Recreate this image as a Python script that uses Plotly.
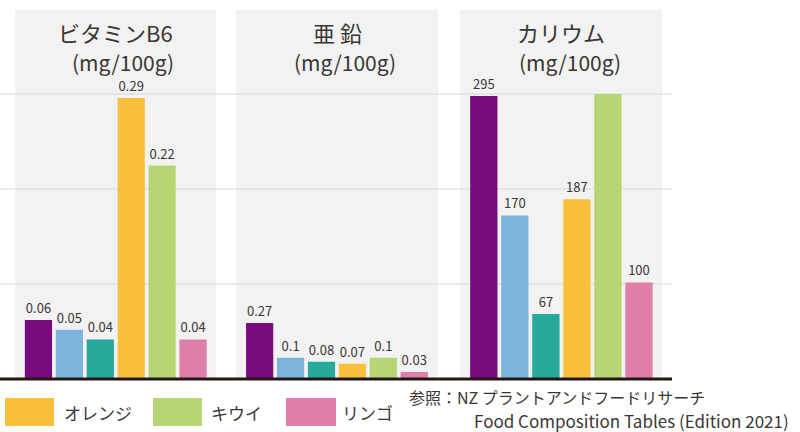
import plotly.graph_objects as go

W, H = 800, 432

fruits = ["F1", "F2", "F3", "オレンジ", "キウイ", "リンゴ"]
colors = ["#7a0b7e", "#7db4dc", "#27a99b", "#fbbf3e", "#b6d675", "#de7fa9"]

titles = ["ビタミンB6", "亜 鉛", "カリウム"]
unit = "(mg/100g)"

vitb6 = [0.06, 0.05, 0.04, 0.29, 0.22, 0.04]
zinc = [0.27, 0.1, 0.08, 0.07, 0.1, 0.03]
kalium = [295, 170, 67, 187, 297, 100]

vitb6_lbl = ["0.06", "0.05", "0.04", "0.29", "0.22", "0.04"]
zinc_lbl = ["0.27", "0.1", "0.08", "0.07", "0.1", "0.03"]
kalium_lbl = ["295", "170", "67", "187", "", "100"]

legend_names = ["オレンジ", "キウイ", "リンゴ"]
legend_colors = ["#fbbf3e", "#b6d675", "#de7fa9"]

source1 = "参照：NZ プラントアンドフードリサーチ"
source2 = "Food Composition Tables (Edition 2021)"

TXT = "#3a3634"
FONT = "Noto Sans CJK JP"

def px(x):
    return x / W

def py(y):
    return 1 - y / H

fig = go.Figure()
series = [(vitb6, vitb6_lbl), (zinc, zinc_lbl), (kalium, kalium_lbl)]
for i, (vals, lbls) in enumerate(series):
    sfx = "" if i == 0 else str(i + 1)
    fig.add_trace(go.Bar(
        x=fruits, y=vals, text=lbls, textposition="outside",
        textfont=dict(size=13, color=TXT, family=FONT),
        marker=dict(color=colors, line=dict(width=0)),
        cliponaxis=False, constraintext="none",
        xaxis="x" + sfx, yaxis="y" + sfx, showlegend=False,
        hoverinfo="skip",
    ))

ydom = [py(378), py(94)]
xdoms = [[23, 208.5], [244.2, 429.7], [468.3, 654.5]]
ymax = [0.29 * 284 / 280, 0.27 * 284 / 55, 295 * 284 / 282]

layout = dict(
    width=W, height=H, margin=dict(l=0, r=0, t=0, b=0),
    paper_bgcolor="white", plot_bgcolor="rgba(0,0,0,0)",
    bargap=0.12, showlegend=False,
    font=dict(family=FONT, color=TXT),
)
for i in range(3):
    sfx = "" if i == 0 else str(i + 1)
    layout["xaxis" + sfx] = dict(domain=[px(xdoms[i][0]), px(xdoms[i][1])],
                                 range=[-0.5, 5.5], visible=False,
                                 anchor="y" + sfx, fixedrange=True)
    layout["yaxis" + sfx] = dict(domain=ydom, range=[0, ymax[i]], visible=False,
                                 anchor="x" + sfx, fixedrange=True)
fig.update_layout(**layout)

shapes = []
panels = [(15, 216), (236, 438), (460, 662)]
for x0, x1 in panels:
    shapes.append(dict(type="rect", xref="paper", yref="paper",
                       x0=px(x0), x1=px(x1), y0=py(379), y1=py(10),
                       fillcolor="#f2f2f2", line=dict(width=0), layer="below"))
for gy in [94, 189, 284]:
    shapes.append(dict(type="line", xref="paper", yref="paper",
                       x0=0, x1=px(672), y0=py(gy), y1=py(gy),
                       line=dict(color="#d9d9d9", width=1.2), layer="below"))
shapes.append(dict(type="line", xref="paper", yref="paper",
                   x0=0, x1=px(672), y0=py(379), y1=py(379),
                   line=dict(color="#231815", width=3), layer="above"))

leg_sw = [(5, 54), (153, 202), (286, 336)]
leg_tx = [62, 209, 340]
for (x0, x1), c in zip(leg_sw, legend_colors):
    shapes.append(dict(type="rect", xref="paper", yref="paper",
                       x0=px(x0), x1=px(x1), y0=py(426), y1=py(398),
                       fillcolor=c, line=dict(width=0)))
fig.update_layout(shapes=shapes)

ann = []
centers1 = [115.5, 337, 561]
centers2 = [122.5, 344.5, 569.5]
for t, c1, c2 in zip(titles, centers1, centers2):
    ann.append(dict(text=t, x=px(c1), y=py(32), xref="paper", yref="paper",
                    xanchor="center", yanchor="middle", showarrow=False,
                    font=dict(size=22, color=TXT, family=FONT)))
    ann.append(dict(text=unit, x=px(c2), y=py(62), xref="paper", yref="paper",
                    xanchor="center", yanchor="middle", showarrow=False,
                    font=dict(size=21, color=TXT, family=FONT)))
for name, tx in zip(legend_names, leg_tx):
    ann.append(dict(text=name, x=px(tx), y=py(412), xref="paper", yref="paper",
                    xanchor="left", yanchor="middle", showarrow=False,
                    font=dict(size=17, color=TXT, family=FONT)))
ann.append(dict(text=source1, x=px(407), y=py(397), xref="paper", yref="paper",
                xanchor="left", yanchor="middle", showarrow=False,
                font=dict(size=16, color=TXT, family=FONT)))
ann.append(dict(text=source2, x=px(791), y=py(420), xref="paper", yref="paper",
                xanchor="right", yanchor="middle", showarrow=False,
                font=dict(size=17, color=TXT, family=FONT)))
fig.update_layout(annotations=ann)

fig.write_html("out.html")
